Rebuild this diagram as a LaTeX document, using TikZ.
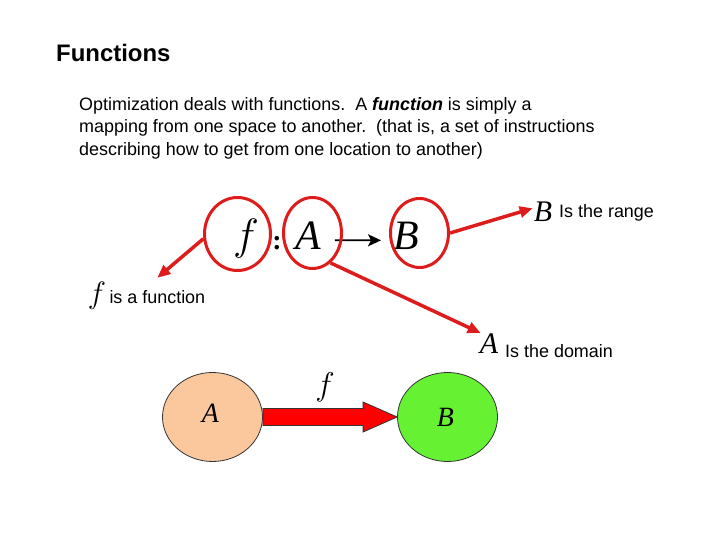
\documentclass[tikz,border=0pt]{standalone}
\usepackage{fix-cm}
\usepackage{fontspec}
\setmainfont{Liberation Sans}
\newfontfamily\tms{Liberation Serif}
\usetikzlibrary{arrows.meta}
\usetikzlibrary{shapes.geometric}
\usetikzlibrary{positioning}
\usetikzlibrary{calc}

\definecolor{markred}{RGB}{222,28,28}
\definecolor{peach}{RGB}{250,200,156}
\definecolor{limegreen}{RGB}{102,242,51}

\tikzset{
  ring/.style={ellipse, draw=markred, line width=3bp, inner sep=0pt},
  pointer/.style={draw=markred, line width=3.5bp, -{Triangle[length=13bp,width=11bp]}},
  sym/.style={font=\tms\itshape\fontsize{#1}{#1}\selectfont, inner sep=0pt},
  fsym/.style={font=\fontsize{#1}{#1}\selectfont, inner sep=0pt},
  lbl/.style={font=\fontsize{18}{22.5}\selectfont, inner sep=0pt},
  maparrow/.style={draw=black, line width=1.8bp, -{Stealth[length=13bp,width=12bp,inset=3bp]}},
  blob/.style={ellipse, draw=black!80, line width=0.8bp, inner sep=0pt, minimum width=100bp, minimum height=89bp},
  bigarrow/.style={draw=black!80, fill=red, line width=0.8bp, line join=miter},
}

\begin{document}
\begin{tikzpicture}[x=1bp, y=-1bp]
    \useasboundingbox (0,0) rectangle (720,540);

    % Draw the heading and the text
    \node[anchor=base west, inner sep=0pt, font=\bfseries\fontsize{24}{28}\selectfont] (title) at (56,62) {Functions};
    \node[lbl, anchor=north west, align=left] (intro) at (79,97) {Optimization deals with functions.\ \ A \textbf{\textit{function}} is simply a\\mapping from one space to another.\ \ (that is, a set of instructions\\describing how to get from one location to another)};

    % Draw the mapping f : A -> B
    \node[fsym=44, anchor=base] (fmap) at (246,250) {$f$};
    \node[sym=28, anchor=base] (colon) at (277,250) {\upshape\bfseries :};
    \node[sym=42, anchor=base] (Amap) at (308,250) {A};
    \node[sym=42, anchor=base] (Bmap) at (406,250) {B};
    \draw[maparrow, shorten <=14bp, shorten >=12bp] ([yshift=-4bp]Amap.east) -- ([yshift=-4bp]Bmap.west);

    \node[ring, minimum width=66bp, minimum height=73bp] (ringf) at (237.5,234) {};
    \node[ring, minimum width=58bp, minimum height=71bp] (ringA) at (312.5,233) {};
    \node[ring, minimum width=58bp, minimum height=69bp] (ringB) at (419.5,233) {};

    % Draw the labels
    \node[fsym=31, anchor=base] (fsmall) at (97,303) {$f$};
    \node[lbl, right=3bp of fsmall.base east, anchor=base west] (ftxt) {is a function};
    \node[sym=30, anchor=base] (Bsmall) at (543,222) {B};
    \node[lbl, anchor=base west] (rtxt) at (559,218) {Is the range};
    \node[sym=30, anchor=base] (Asmall) at (489,353) {A};
    \node[lbl, anchor=base west] (dtxt) at (505,357) {Is the domain};

    \draw[pointer] (ringf.188) -- ([yshift=12bp]ftxt.north);
    \draw[pointer] (ringA.-59) -- ([xshift=1bp]Asmall.north west);
    \draw[pointer] (ringB.east) -- ([xshift=-1bp,yshift=4bp]Bsmall.west);

    % Draw the lower picture
    \node[blob, fill=peach] (blobA) at (212.5,417) {};
    \node[blob, fill=limegreen] (blobB) at (447.5,417) {};
    \node[sym=28] (Ain) at ([xshift=-2bp,yshift=4bp]blobA.center) {A};
    \node[sym=28] (Bin) at ([xshift=-2bp,yshift=0bp]blobB.center) {B};

    \draw[bigarrow] ($(blobA.east)+(0,-8.5)$) -- ($(blobB.west)+(-34,-8.5)$) -- ($(blobB.west)+(-34,-15)$)
        -- (blobB.west) -- ($(blobB.west)+(-34,15)$) -- ($(blobB.west)+(-34,8.5)$) -- ($(blobA.east)+(0,8.5)$) -- cycle;
    \node[fsym=33, anchor=base] (fin) at (325,395) {$f$};
\end{tikzpicture}
\end{document}
